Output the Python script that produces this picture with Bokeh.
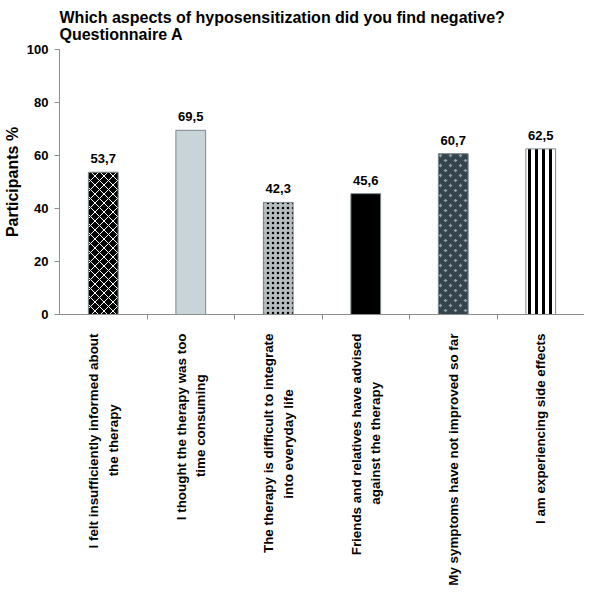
import math
from bokeh.plotting import figure
from bokeh.models import ColumnDataSource, Range1d, FixedTicker
from bokeh.core.properties import value
from bokeh.embed import file_html
from bokeh.resources import INLINE

title_text = "Which aspects of hyposensitization did you find negative?\nQuestionnaire A"
category_lines = [
    ["I felt insufficiently informed about", "the therapy"],
    ["I thought the therapy was too", "time consuming"],
    ["The therapy is difficult to integrate", "into everyday life"],
    ["Friends and relatives have advised", "against the therapy"],
    ["My symptoms have not improved so far"],
    ["I am experiencing side effects"],
]
values = [53.7, 69.5, 42.3, 45.6, 60.7, 62.5]
value_labels = ["53,7", "69,5", "42,3", "45,6", "60,7", "62,5"]
y_ticks = [0, 20, 40, 60, 80, 100]

fill_colors = ["#000000", "#c9d4d8", "#b5bdc0", "#000000", "#8fa3a9", "#ffffff"]
hatch_patterns = ["diagonal_cross", " ", "dot", " ", "diagonal_cross", "vertical_line"]
hatch_colors = ["#ffffff", "#000000", "#000000", "#000000", "#35444c", "#000000"]
hatch_scales = [9, 1, 5, 1, 10, 7]
hatch_weights = [1, 1, 1.5, 1, 4.6, 3]

# Arial/Liberation Sans Bold advance widths (1/1000 em), used to centre the
# second line of each two-line tick label under the first one.
_W = dict(zip("abcdefghijklmnopqrstuvwxyz",
              [556, 611, 556, 611, 556, 333, 611, 611, 278, 278, 556, 278, 889,
               611, 611, 611, 611, 389, 556, 333, 611, 556, 778, 556, 556, 500]))
_W.update({" ": 278, "I": 278, "T": 611, "F": 611, "M": 833})


def _width(s):
    return sum(_W.get(ch, 556) for ch in s)


def _centred(lines):
    if len(lines) == 1:
        return lines[0]
    first, second = lines
    pad = round((_width(first) - _width(second)) / 2 / 278)
    return first + "\n" + second + "\u00a0" * max(pad, 0)


categories = [_centred(l) for l in category_lines]

xs = [i + 0.5 for i in range(len(categories))]
src = ColumnDataSource(dict(
    x=xs, top=values, lab=value_labels,
    fill=fill_colors, hp=hatch_patterns, hc=hatch_colors,
    hs=hatch_scales, hw=hatch_weights,
))

p = figure(width=584, height=588, output_backend="svg", toolbar_location=None,
           x_range=Range1d(0, 6), y_range=Range1d(0, 100),
           min_border_left=10, min_border_right=0, min_border_top=2,
           min_border_bottom=0)
p.title.text = title_text
p.title.text_font = "Liberation Sans"
p.title.text_font_size = "16px"
p.title.text_font_style = "bold"
p.title.text_color = "#000000"
p.title.align = "left"
p.title.standoff = 13

p.outline_line_color = None
p.xgrid.grid_line_color = None
p.ygrid.grid_line_color = None

p.vbar(x="x", top="top", width=0.34, bottom=0, source=src,
       fill_color="fill", line_color="#7d888c", line_width=1,
       hatch_pattern="hp", hatch_color="hc", hatch_scale="hs", hatch_weight="hw")

p.text(x="x", y="top", text="lab", source=src, text_align="center",
       text_baseline="bottom", y_offset=-9, text_font=value("Liberation Sans"),
       text_font_size="13px", text_font_style="bold", text_color="#000000")

# y axis
ya = p.yaxis[0]
ya.ticker = FixedTicker(ticks=y_ticks)
ya.axis_label = "Participants %"
ya.axis_label_text_font = "Liberation Sans"
ya.axis_label_text_font_size = "16px"
ya.axis_label_text_font_style = "bold"
ya.axis_label_text_color = "#000000"
ya.axis_label_standoff = 3
ya.major_label_text_font = "Liberation Sans"
ya.major_label_text_font_size = "13px"
ya.major_label_text_font_style = "bold"
ya.major_label_text_color = "#000000"
ya.axis_line_color = "#8c8c8c"
ya.major_tick_line_color = "#8c8c8c"
ya.major_tick_in = 0
ya.major_tick_out = 5
ya.minor_tick_line_color = None
ya.major_label_standoff = 6

# x axis
xa = p.xaxis[0]
xa.ticker = FixedTicker(ticks=xs, minor_ticks=[1, 2, 3, 4, 5, 6])
xa.major_label_overrides = {x: c for x, c in zip(xs, categories)}
xa.major_label_orientation = math.pi / 2
xa.major_label_text_font = "Liberation Sans"
xa.major_label_text_font_size = "13.4px"
xa.major_label_text_font_style = "bold"
xa.major_label_text_color = "#000000"
xa.major_label_text_line_height = 1.3
xa.major_label_standoff = 13
xa.major_tick_line_color = None
xa.minor_tick_line_color = "#8c8c8c"
xa.minor_tick_in = 0
xa.minor_tick_out = 5
xa.axis_line_color = "#8c8c8c"

open("out.html", "w").write(file_html(p, INLINE))
